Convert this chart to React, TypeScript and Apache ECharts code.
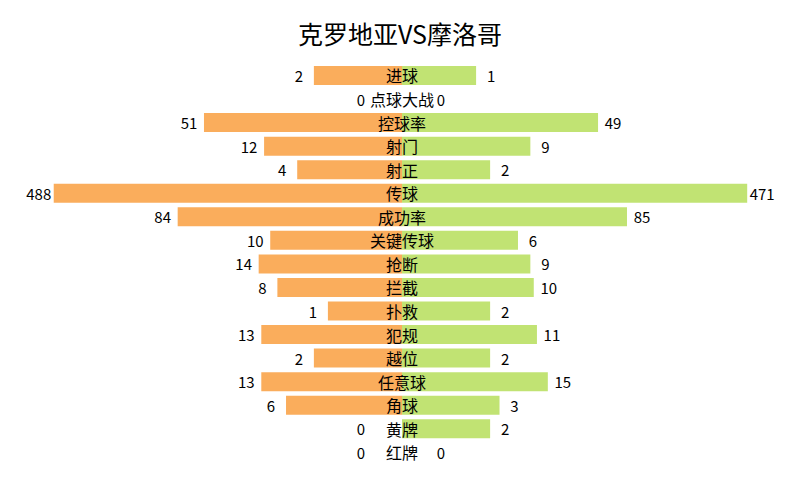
import React, { useEffect, useRef } from 'react';
import * as echarts from 'echarts';

const title = '克罗地亚VS摩洛哥';
const categories = ['进球', '点球大战', '控球率', '射门', '射正', '传球', '成功率', '关键传球', '抢断', '拦截', '扑救', '犯规', '越位', '任意球', '角球', '黄牌', '红牌'];
const croatia = [2, 0, 51, 12, 4, 488, 84, 10, 14, 8, 1, 13, 2, 13, 6, 0, 0];
const morocco = [1, 0, 49, 9, 2, 471, 85, 6, 9, 10, 2, 11, 2, 15, 3, 2, 0];

// 条长按四次方根压缩
const scale = (v: number) => Math.pow(v, 0.25);

const FONT = '"Noto Sans CJK SC", sans-serif';
const GRID_LEFT = 31.5;
const CENTER_X = 402;

const App: React.FC = () => {
  const chartRef = useRef<HTMLDivElement>(null);

  useEffect(() => {
    if (!chartRef.current) return;
    const chart = echarts.init(chartRef.current, undefined, { renderer: 'svg' });

    const leftData = croatia.map(v => ({
      value: -scale(v),
      label: v === 0 ? { offset: [-26, 0] } : undefined,
    }));
    const rightData = morocco.map(v => ({
      value: scale(v),
      label: v === 0 ? { offset: [24, 0] } : undefined,
    }));

    const option = {
      animation: false,
      title: {
        text: title,
        left: 'center',
        top: 15,
        textStyle: { fontSize: 25, fontWeight: 'normal', color: '#000', fontFamily: FONT },
      },
      grid: { left: GRID_LEFT, right: 27.5, top: 63.7, bottom: 35.9, containLabel: false },
      xAxis: { type: 'value', min: -5, max: 5, show: false },
      yAxis: {
        type: 'category',
        inverse: true,
        data: categories,
        position: 'left',
        offset: -(CENTER_X - GRID_LEFT),
        z: 10,
        axisLine: { show: false, onZero: false },
        axisTick: { show: false },
        splitLine: { show: false },
        axisLabel: { align: 'center', margin: 0, fontSize: 16, color: '#000', fontFamily: FONT },
      },
      series: [
        {
          name: '克罗地亚',
          type: 'bar',
          stack: 'total',
          barWidth: 19,
          itemStyle: { color: '#FAAD5C' },
          label: {
            show: true,
            position: 'left',
            distance: 15,
            align: 'center',
            fontSize: 15,
            color: '#000',
            fontFamily: FONT,
            formatter: (p: any) => String(croatia[p.dataIndex]),
          },
          data: leftData,
        },
        {
          name: '摩洛哥',
          type: 'bar',
          stack: 'total',
          barWidth: 19,
          itemStyle: { color: '#C1E373' },
          label: {
            show: true,
            position: 'right',
            distance: 15,
            align: 'center',
            fontSize: 15,
            color: '#000',
            fontFamily: FONT,
            formatter: (p: any) => String(morocco[p.dataIndex]),
          },
          data: rightData,
        },
      ],
    };
    chart.setOption(option);
    return () => chart.dispose();
  }, []);

  return (
    <div style={{ position: 'fixed', left: 0, top: 0, width: 800, height: 500, background: '#fff' }}>
      <div ref={chartRef} style={{ width: 800, height: 500 }} />
    </div>
  );
};

export default App;
